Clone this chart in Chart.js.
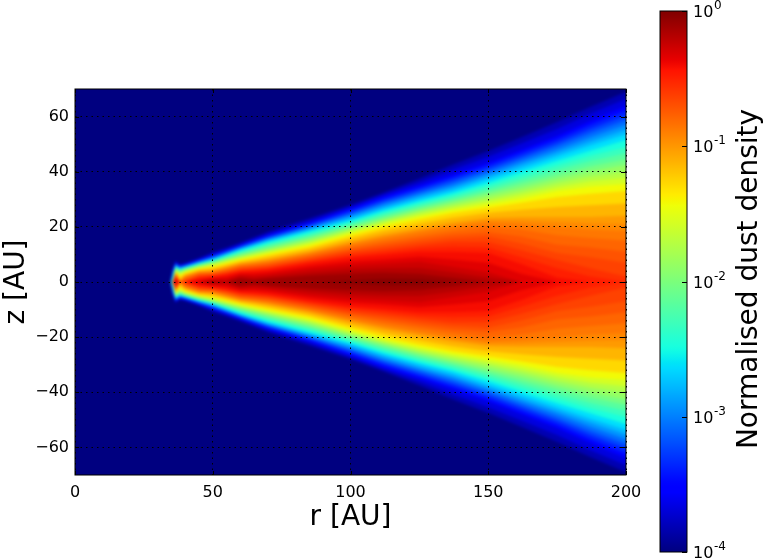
<!DOCTYPE html>
<html>
<head>
<meta charset="utf-8">
<title>Normalised dust density</title>
<script src="https://cdn.jsdelivr.net/npm/chart.js@4/dist/chart.umd.min.js"></script>
<style>
  body { margin: 0; background: #fff; }
  canvas { position: absolute; top: 0; }
  #densityMap { left: 0; }
  #colorBar { left: 640px; }
</style>
</head>
<body>
<canvas id="densityMap" width="650" height="559"></canvas>
<canvas id="colorBar" width="123" height="559"></canvas>
<script>
// log10 density of each contour, lowest first
const levels = [-3.9, -3.75, -3.6, -3.45, -3.3, -3.15, -3, -2.85, -2.7, -2.55, -2.4, -2.25, -2.1,
  -1.95, -1.8, -1.65, -1.5, -1.35, -1.2, -1.05, -0.975, -0.9, -0.825, -0.75, -0.675, -0.6,
  -0.525, -0.45, -0.375, -0.3, -0.225, -0.15, -0.05];

const radii = [35.5, 36.5, 38, 40, 45, 50, 55, 60, 65, 70, 85, 100, 112, 125, 137, 150, 162, 175, 187, 200];

// height z (AU) of each contour at each radius, upper half of the disc.
// Contours missing at the end of a row do not reach that radius
const z35 = [5, 4.7, 4.4, 4.2, 3.9, 3.6, 3.3, 2.8, 2.3, 1.6, 0.7];
const z36 = [7.6, 7.3, 7, 6.8, 6.6, 6.4, 6.2, 6, 5.8, 5.6, 5.4, 5.2, 5, 4.8, 4.5, 4.3, 4, 3.7, 3.5, 3.3, 3.2, 3, 2.85, 2.7, 2.45, 2.2, 1.8, 1.2, 0.6];
const z38 = [6.4, 6.2, 6, 5.8, 5.6, 5.4, 5.2, 5, 4.8, 4.6, 4.4, 4.2, 3.9, 3.6, 3.3, 3, 2.5, 2, 1.4, 0.5];
const z40 = [6.9, 6.7, 6.5, 6.3, 6.1, 5.9, 5.75, 5.6, 5.45, 5.3, 5.1, 4.9, 4.7, 4.5, 4.2, 3.9, 3.6, 3.2, 2.8, 2.4, 2.2, 1.9, 1.5, 1.1, 0.6];
const z45 = [8.7, 8.4, 8.1, 7.9, 7.7, 7.5, 7.3, 7.1, 6.9, 6.7, 6.5, 6.3, 6.1, 5.9, 5.6, 5.3, 5, 4.7, 4.3, 3.9, 3.7, 3.4, 3.1, 2.8, 2.5, 2.1, 1.7, 1.2, 0.5];
const z50 = [10.8, 10.3, 9.8, 9.5, 9.3, 9, 8.7, 8.4, 8.2, 7.9, 7.7, 7.5, 7.25, 7, 6.6, 6.2, 5.85, 5.4, 4.85, 4.3, 4, 3.7, 3.4, 3.1, 2.8, 2.5, 2.2, 1.9, 1.4, 0.9, 0.5, 0.2];
const z55 = [12.5, 12, 11.6, 11.3, 11.1, 10.8, 10.5, 10.2, 10, 9.7, 9.3, 9, 8.6, 8.3, 7.9, 7.5, 7.1, 6.6, 6, 5.5, 5.2, 4.9, 4.5, 4.1, 3.75, 3.4, 3, 2.6, 1.8, 1, 0.3];
const z60 = [14.3, 13.8, 13.4, 13.1, 12.9, 12.6, 12.3, 12, 11.8, 11.45, 11, 10.55, 10.1, 9.65, 9.2, 8.75, 8.3, 7.8, 7.3, 6.75, 6.5, 6.2, 5.8, 5.4, 5, 4.5, 4.1, 3.7, 3.1, 2.5, 1.9, 1.2];
const z65 = [16.2, 15.7, 15.2, 14.9, 14.6, 14.3, 13.9, 13.6, 13.3, 12.9, 12.4, 11.9, 11.35, 10.8, 10.3, 9.85, 9.35, 8.8, 8.1, 7.45, 7.1, 6.8, 6.3, 5.9, 5.4, 4.9, 4.5, 4, 3.1, 2.3, 1.4, 0.6];
const z70 = [18.2, 17.6, 17, 16.6, 16.3, 15.9, 15.6, 15.2, 14.8, 14.4, 13.8, 13.2, 12.6, 12, 11.5, 10.9, 10.4, 9.75, 9, 8.2, 7.8, 7.4, 6.9, 6.4, 5.9, 5.4, 4.9, 4.4, 3.5, 2.6, 1.9, 1.2];
const z85 = [23, 22.2, 21.5, 21, 20.6, 20.1, 19.6, 19.2, 18.7, 18.2, 17.5, 16.8, 16.2, 15.5, 14.8, 14.1, 13.5, 12.7, 11.9, 11, 10.6, 10.2, 9.6, 9.1, 8.5, 7.9, 7.4, 6.8, 5.7, 4.6, 3.4, 2.3];
const z100 = [28, 27.3, 26.7, 26, 25.4, 24.7, 24.1, 23.4, 22.7, 22.1, 21.5, 20.85, 20.2, 19.6, 18.95, 18.3, 17.6, 16.8, 15.7, 14.6, 14, 13.5, 12.7, 11.9, 11.2, 10.4, 9.6, 8.8, 7.4, 6, 4.5, 3, 0.6];
const z112 = [32.5, 31.7, 31, 30.2, 29.5, 28.7, 28, 27.2, 26.5, 25.75, 25, 24.25, 23.5, 22.8, 22.1, 21.5, 20.8, 19.9, 18.6, 17.2, 16.5, 15.8, 14.8, 13.8, 12.8, 11.8, 10.8, 9.8, 8.2, 6.6, 5, 3.4, 1.2];
const z125 = [37.5, 36.2, 35, 34.2, 33.4, 32.5, 31.7, 30.9, 30, 29.2, 28.4, 27.6, 26.8, 26, 25.4, 24.5, 23.7, 22.7, 21.1, 19.6, 18.8, 18, 16.8, 15.7, 14.5, 13.3, 12.2, 11, 9.2, 7.3, 5.1, 3, 1];
const z137 = [42.5, 40.7, 39, 38, 37, 36, 35, 34.1, 33.1, 32.2, 31.3, 30.4, 29.6, 28.7, 27.8, 26.9, 26, 25, 23.3, 21.6, 20.8, 20, 18.6, 17.2, 15.9, 14.6, 12.8, 11, 8.2, 5.5, 3.5, 1.5];
const z150 = [47.5, 45.4, 43.3, 42.3, 41.3, 40.3, 39.3, 38.3, 37.3, 36, 34.9, 33.7, 32.6, 31.6, 30.4, 29.3, 28.1, 26.9, 25.1, 23.3, 22.4, 21.5, 20, 18, 16.5, 14.5, 12.5, 10.5, 7, 3.5, 1.5];
const z162 = [52.5, 50.2, 48, 46.9, 45.7, 44.6, 43.5, 42.4, 41.2, 39.9, 38.5, 37.1, 35.7, 34.3, 32.9, 31.6, 30.2, 28.7, 26.2, 23.6, 22.3, 21, 19, 16.5, 14, 11.5, 9, 6.5, 3];
const z175 = [58, 55.5, 53, 51.8, 50.5, 49.3, 48, 46.8, 45.5, 44, 42.3, 40.7, 39, 37.5, 36, 34.5, 33, 30.8, 27.2, 23.6, 21.8, 20, 17, 13.5, 10.5, 8, 5, 1.5];
const z187 = [63.5, 61, 58.5, 57, 55.5, 54, 52.5, 51, 49.5, 47.6, 45.8, 43.9, 42, 40.2, 38.4, 36.5, 34.6, 32, 27.8, 23.6, 21.3, 19, 16, 12.5, 9, 5, 2];
const z200 = [69, 66.5, 64, 62.3, 60.5, 58.8, 57, 55.3, 53.6, 51.5, 49, 46.7, 44.5, 42.5, 40, 37.8, 35.5, 33, 28.5, 24, 21, 18.5, 15, 11, 7, 2];
const profiles = [z35, z36, z38, z40, z45, z50, z55, z60, z65, z70, z85, z100, z112, z125, z137, z150, z162, z175, z187, z200];

// tick labels
const rTicks = [0, 50, 100, 150, 200];
const zTicks = [-60, -40, -20, 0, 20, 40, 60];
const colorTicks = [1e-4, 1e-3, 1e-2, 1e-1, 1];
const colorTickExponents = ['-4', '-3', '-2', '-1', '0'];

// jet colormap breakpoints
const jetRed = [[0, 0], [0.35, 0], [0.66, 1], [0.89, 1], [1, 0.5]];
const jetGreen = [[0, 0], [0.125, 0], [0.375, 1], [0.64, 1], [0.91, 0], [1, 0]];
const jetBlue = [[0, 0.5], [0.11, 1], [0.34, 1], [0.65, 0], [1, 0]];

function jetChannel(stops, t) {
  for (let i = 1; i < stops.length; i++) {
    if (t <= stops[i][0]) {
      const [t0, v0] = stops[i - 1];
      const [t1, v1] = stops[i];
      return Math.round(255 * (v0 + (v1 - v0) * (t - t0) / (t1 - t0)));
    }
  }
  return Math.round(255 * stops[stops.length - 1][1]);
}

function jetColor(t) {
  return `rgb(${jetChannel(jetRed, t)}, ${jetChannel(jetGreen, t)}, ${jetChannel(jetBlue, t)})`;
}

// closed outline of one contour: along the top, back along the mirrored bottom
function contourOutline(levelIndex) {
  const heights = profiles.map(p => p[levelIndex] || 0);
  const top = radii.map((r, j) => ({ x: r, y: heights[j] }));
  const bottom = radii.map((r, j) => ({ x: r, y: -heights[j] })).reverse();
  return [{ x: 34.8, y: 0 }, ...top, ...bottom];
}

// colour of the band between a contour and the next one up
function bandColor(i) {
  const next = i + 1 < levels.length ? levels[i + 1] : 0;
  return jetColor(((levels[i] + next) / 2 + 4) / 4);
}

const tickFont = { family: 'DejaVu Sans', size: 16 };
const titleFont = { family: 'DejaVu Sans', size: 28 };

// axes frame and matplotlib style inward ticks
const framePlugin = {
  id: 'frame',
  afterDraw(chart) {
    const { ctx, chartArea: a, scales } = chart;
    const isMap = scales.x && scales.x.type === 'linear';
    ctx.save();
    ctx.strokeStyle = '#000';
    ctx.lineWidth = 1;
    ctx.strokeRect(a.left, a.top, a.right - a.left, a.bottom - a.top);
    ctx.beginPath();
    if (isMap) {
      scales.x.ticks.forEach(t => {
        const px = Math.round(scales.x.getPixelForValue(t.value)) + 0.5;
        ctx.moveTo(px, a.top); ctx.lineTo(px, a.top + 4);
        ctx.moveTo(px, a.bottom); ctx.lineTo(px, a.bottom - 4);
      });
    }
    scales.y.ticks.forEach(t => {
      const py = Math.round(scales.y.getPixelForValue(t.value)) + 0.5;
      if (isMap) {
        ctx.moveTo(a.left, py); ctx.lineTo(a.left + 4, py);
      }
      ctx.moveTo(a.right, py); ctx.lineTo(a.right - 5, py);
    });
    ctx.stroke();
    ctx.restore();
  }
};

// dark blue background of the plot area (density below 1e-4)
const backgroundPlugin = {
  id: 'plotBackground',
  beforeDatasetsDraw(chart) {
    const { ctx, chartArea: a } = chart;
    ctx.save();
    ctx.fillStyle = jetColor(0);
    ctx.fillRect(a.left, a.top, a.right - a.left, a.bottom - a.top);
    ctx.restore();
  }
};

// soften the steps between contour bands, before the grid goes on top
const softenPlugin = {
  id: 'soften',
  afterDatasetsDraw(chart) {
    const { ctx, canvas, chartArea: a } = chart;
    const w = a.right - a.left;
    const h = a.bottom - a.top;
    ctx.save();
    ctx.beginPath();
    ctx.rect(a.left, a.top, w, h);
    ctx.clip();
    ctx.filter = 'blur(1.5px)';
    ctx.drawImage(canvas, a.left, a.top, w, h, a.left, a.top, w, h);
    ctx.restore();
  }
};

new Chart(document.getElementById('densityMap'), {
  type: 'line',
  data: {
    datasets: levels.map((level, i) => ({
      label: `log density ${level}`,
      data: contourOutline(i),
      backgroundColor: bandColor(i),
      borderWidth: 0,
      pointRadius: 0,
      fill: 'shape',
      tension: 0,
      order: levels.length - i
    }))
  },
  options: {
    responsive: false,
    animation: false,
    layout: { padding: { top: 89, right: 24, left: 0, bottom: 0 } },
    plugins: { legend: { display: false }, tooltip: { enabled: false } },
    scales: {
      x: {
        type: 'linear',
        min: 0,
        max: 200,
        afterFit(scale) { scale.height = 84; },
        afterBuildTicks(scale) { scale.ticks = rTicks.map(v => ({ value: v })); },
        grid: { color: '#000', drawTicks: false, z: 1 },
        border: { display: false, dash: [1.5, 4] },
        ticks: { color: '#000', font: tickFont, padding: 8, maxRotation: 0, autoSkip: false },
        title: { display: true, text: 'r [AU]', color: '#000', font: titleFont, padding: { top: 0, bottom: 24 } }
      },
      y: {
        type: 'linear',
        min: -70,
        max: 70,
        afterFit(scale) { scale.width = 75; },
        afterBuildTicks(scale) { scale.ticks = zTicks.map(v => ({ value: v })); },
        grid: { color: '#000', drawTicks: false, z: 1 },
        border: { display: false, dash: [1.5, 4] },
        ticks: {
          color: '#000',
          font: tickFont,
          padding: 6,
          autoSkip: false,
          callback: value => String(value).replace('-', '−')
        },
        title: { display: true, text: 'z [AU]', color: '#000', font: titleFont, padding: { top: 0, bottom: 0 } }
      }
    }
  },
  plugins: [backgroundPlugin, softenPlugin, framePlugin]
});

// colour bar: one floating bar from 1e-4 to 1 filled with the colormap
function colorBarFill(context) {
  const { chart } = context;
  if (!chart.chartArea) return jetColor(0.5);
  const a = chart.chartArea;
  const gradient = chart.ctx.createLinearGradient(0, a.bottom, 0, a.top);
  for (let i = 0; i <= 100; i++) {
    gradient.addColorStop(i / 100, jetColor(i / 100));
  }
  return gradient;
}

// power-of-ten tick labels and the rotated title of the colour bar
const colorBarTextPlugin = {
  id: 'colorBarText',
  afterDraw(chart) {
    const { ctx, scales } = chart;
    ctx.save();
    ctx.fillStyle = '#000';
    ctx.textAlign = 'left';
    ctx.textBaseline = 'alphabetic';
    colorTicks.forEach((value, i) => {
      const py = scales.y.getPixelForValue(value);
      ctx.font = `${tickFont.size}px "DejaVu Sans"`;
      ctx.fillText('10', 53, py + 6);
      ctx.font = '12px "DejaVu Sans"';
      ctx.fillText(colorTickExponents[i], 74, py - 2);
    });
    ctx.translate(110, 279);
    ctx.rotate(-Math.PI / 2);
    ctx.font = `${titleFont.size}px "DejaVu Sans"`;
    ctx.textAlign = 'center';
    ctx.textBaseline = 'middle';
    ctx.fillText('Normalised dust density', 0, 0);
    ctx.restore();
  }
};

new Chart(document.getElementById('colorBar'), {
  type: 'bar',
  data: {
    labels: ['density'],
    datasets: [{
      data: [[colorTicks[0], colorTicks[colorTicks.length - 1]]],
      backgroundColor: colorBarFill,
      borderWidth: 0,
      barPercentage: 1,
      categoryPercentage: 1
    }]
  },
  options: {
    responsive: false,
    animation: false,
    layout: { padding: { top: 11, left: 20, right: 0, bottom: 7 } },
    plugins: { legend: { display: false }, tooltip: { enabled: false } },
    scales: {
      x: { display: false },
      y: {
        type: 'logarithmic',
        position: 'right',
        min: colorTicks[0],
        max: colorTicks[colorTicks.length - 1],
        afterFit(scale) { scale.width = 76; },
        afterBuildTicks(scale) { scale.ticks = colorTicks.map(v => ({ value: v, major: true })); },
        grid: { display: false },
        border: { display: false },
        ticks: { display: false }
      }
    }
  },
  plugins: [framePlugin, colorBarTextPlugin]
});
</script>
</body>
</html>
